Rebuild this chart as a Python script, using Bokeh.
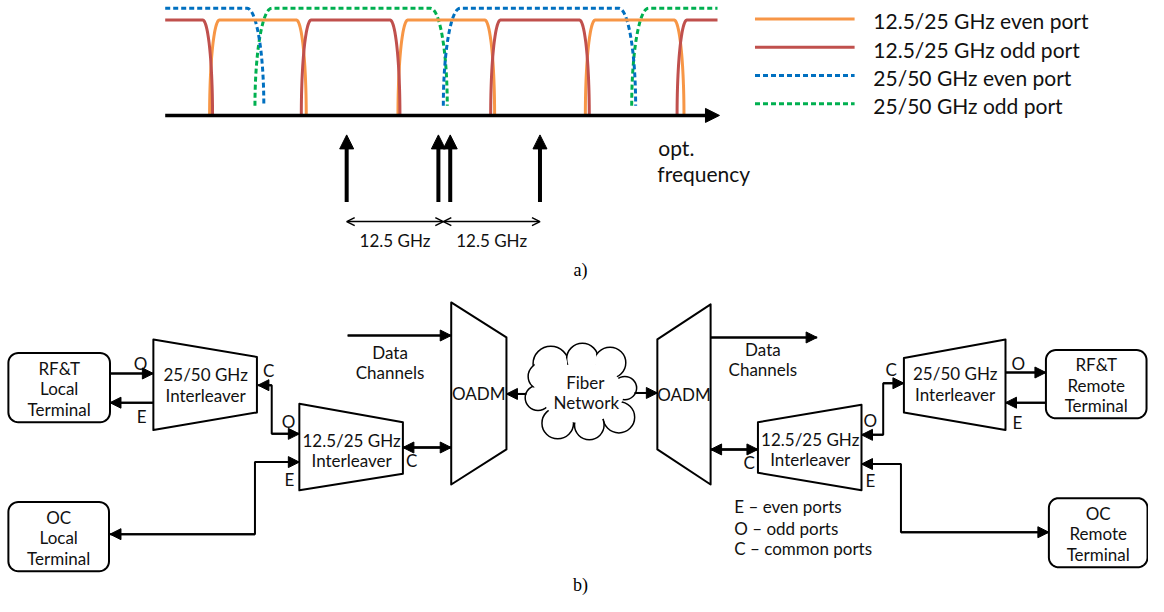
import numpy as np
from bokeh.plotting import figure
from bokeh.models import Range1d, Arrow, NormalHead, OpenHead, ColumnDataSource
from bokeh.core.properties import value
from bokeh.embed import file_html
from bokeh.resources import INLINE

FONT = value("Lato")
SERIF = value("Liberation Serif")

# ---------------- panel a) data (reference pixel coordinates) ----------------
axis_start, axis_end, axis_y = 167, 729, 118
solid_top, dashed_top, dashed_bottom = 20, 8, 108
solid_edge, dashed_edge = 10, 17
even12_bands = [(212, 310), (403, 501), (593, 693)]
odd12_bands = [(None, 215), (305, 405), (497, 597), (686, None)]
even25_bands = [(None, 267), (449, 644)]
odd25_bands = [(258, 453), (640, None)]
carrier_x = [351, 444, 456, 547]
carrier_bottom, carrier_top = 207, 138
spacing_pairs = [(351, 449), (449, 547)]
spacing_labels = ["12.5 GHz", "12.5 GHz"]
legend_labels = ["12.5/25 GHz even port", "12.5/25 GHz odd port",
                 "25/50 GHz even port", "25/50 GHz odd port"]
legend_colors = ["#F79646", "#C0504D", "#0070C0", "#00B050"]
legend_dash = ["solid", "solid", "5 3", "5 3"]
legend_y = [19, 48, 77, 106]

# ---------------- panel b) data ----------------
box_labels = [["RF&T", "Local", "Terminal"], ["OC", "Local", "Terminal"],
              ["RF&T", "Remote", "Terminal"], ["OC", "Remote", "Terminal"]]
box_x0 = [8, 8, 1060, 1063]
box_x1 = [111, 110, 1162, 1163]
box_y0 = [362, 515, 359, 511]
box_y1 = [433, 586, 429, 582]

trap_labels = [["25/50 GHz", "Interleaver"], ["12.5/25 GHz", "Interleaver"], ["OADM"],
               ["OADM"], ["12.5/25 GHz", "Interleaver"], ["25/50 GHz", "Interleaver"]]
trap_xs = [[155, 260, 260, 155], [303, 408, 408, 303], [457, 513, 513, 457],
           [666, 720, 720, 666], [768, 873, 873, 768], [916, 1019, 1019, 916]]
trap_ys = [[348, 366, 423, 441], [414, 433, 486, 503], [310, 346, 461, 497],
           [348, 312, 497, 461], [433, 415, 503, 485], [367, 348, 441, 423]]
trap_text_x = [208, 356, 485, 693, 821, 968]
trap_text_y = [395, 462, 404, 405, 461, 394]

# connectors: points, heads ("end" or "both")
conn_pts = [
    [(111, 383), (155, 383)],
    [(155, 413), (111, 413)],
    [(261, 395), (275, 395), (275, 445), (303, 445)],
    [(111, 548), (258, 548), (258, 474), (303, 474)],
    [(408, 459), (457, 459)],
    [(352, 344), (457, 344)],
    [(533, 404), (513, 404)],
    [(643, 403), (666, 403)],
    [(720, 346), (828, 346)],
    [(720, 461), (768, 461)],
    [(873, 446), (895, 446), (895, 393), (916, 393)],
    [(873, 476), (913, 476), (913, 546), (1063, 546)],
    [(1019, 382), (1060, 382)],
    [(1060, 413), (1019, 413)],
]
conn_heads = ["end", "end", "both", "both", "both", "end", "end", "end", "end",
              "both", "both", "both", "end", "end"]

port_text = ["O", "E", "C", "O", "E", "C", "C", "O", "E", "C", "O", "E"]
port_x = [142, 143, 272, 292, 293, 417, 759, 882, 882, 903, 1032, 1031]
port_y = [373, 427, 380, 432, 492, 472, 474, 431, 493, 379, 373, 433]

misc_text = ["Data", "Channels", "Data", "Channels", "Fiber", "Network"]
misc_x = [395, 395, 773, 773, 593, 594]
misc_y = [361, 382, 358, 379, 392, 413]

key_text = ["E \u2013 even ports", "O \u2013 odd ports", "C \u2013 common ports"]
key_x = [744, 744, 744]
key_y = [520, 542, 563]

cloud_cx = [558, 590, 618, 633, 627, 597, 565, 545, 549]
cloud_cy = [373, 368, 372, 398, 428, 436, 434, 408, 386]
cloud_r = [18, 16, 16, 12, 16, 15, 16, 13, 14]

# ---------------- figure ----------------
p = figure(width=1148, height=596, x_range=Range1d(0, 1164), y_range=Range1d(612, 0),
           output_backend="svg", toolbar_location=None, x_axis_type=None, y_axis_type=None,
           min_border=0)
p.grid.visible = False
p.outline_line_color = None
p.background_fill_color = "white"
p.border_fill_color = "white"


def band(start, end, edge, low, high, x_min, x_max):
    th = np.linspace(0, np.pi / 2, 30)
    xs, ys = [], []
    if start is None:
        xs.append(x_min); ys.append(high)
    else:
        xs += list(start + edge * (1 - np.cos(th)))
        ys += list(low + (high - low) * np.sin(th))
    if end is None:
        xs.append(x_max); ys.append(high)
    else:
        x0 = end - edge
        xs += list(x0 + edge * np.sin(th))
        ys += list(high + (low - high) * (1 - np.cos(th)))
    return xs, ys


x_max = axis_end - 2
for bands, color, edge, low, high, dash in [
        (odd25_bands, legend_colors[3], dashed_edge, dashed_bottom, dashed_top, "5 3"),
        (even25_bands, legend_colors[2], dashed_edge, dashed_bottom, dashed_top, "5 3"),
        (even12_bands, legend_colors[0], solid_edge, axis_y, solid_top, "solid"),
        (odd12_bands, legend_colors[1], solid_edge, axis_y, solid_top, "solid")]:
    for s, e in bands:
        xs, ys = band(s, e, edge, low, high, axis_start, x_max)
        p.line(xs, ys, line_color=color, line_width=3, line_dash=dash)

# frequency axis
p.add_layout(Arrow(end=NormalHead(size=14, fill_color="black", line_color="black"),
                   x_start=axis_start, y_start=axis_y, x_end=axis_end, y_end=axis_y,
                   line_width=3.5, line_color="black"))

# carriers
for cx in carrier_x:
    p.add_layout(Arrow(end=NormalHead(size=14, fill_color="black", line_color="black"),
                       x_start=cx, y_start=carrier_bottom, x_end=cx, y_end=carrier_top,
                       line_width=4, line_color="black"))
for (a, b) in spacing_pairs:
    p.add_layout(Arrow(start=OpenHead(size=8, line_width=1.5), end=OpenHead(size=8, line_width=1.5),
                       x_start=a, y_start=227, x_end=b, y_end=227, line_width=1.5))
p.text(x=[(a + b) / 2 for a, b in spacing_pairs], y=[246, 246], text=spacing_labels,
       text_font=FONT, text_font_size="17px", text_align="center", text_baseline="middle",
       text_color="#111111")

# legend a)
for lab, col, dsh, ly in zip(legend_labels, legend_colors, legend_dash, legend_y):
    p.line([765, 866], [ly, ly], line_color=col, line_width=3, line_dash=dsh)
p.text(x=[885] * 4, y=[v + 2 for v in legend_y], text=legend_labels, text_font=FONT,
       text_font_size="21px", text_align="left", text_baseline="middle", text_color="#111111")
p.text(x=[667, 666], y=[151, 178], text=["opt.", "frequency"], text_font=FONT,
       text_font_size="21px", text_align="left", text_baseline="middle", text_color="#111111")

p.text(x=[588, 588], y=[277, 600], text=["a)", "b)"], text_font=SERIF,
       text_font_size="18px", text_align="center", text_baseline="middle", text_color="black")


# ---------------- panel b ----------------
def rounded_rect(x0, x1, y0, y1, r=10):
    pts_x, pts_y = [], []
    corners = [(x1 - r, y0 + r, -np.pi / 2, 0), (x1 - r, y1 - r, 0, np.pi / 2),
               (x0 + r, y1 - r, np.pi / 2, np.pi), (x0 + r, y0 + r, np.pi, 1.5 * np.pi)]
    for cx, cy, a0, a1 in corners:
        t = np.linspace(a0, a1, 10)
        pts_x += list(cx + r * np.cos(t))
        pts_y += list(cy + r * np.sin(t))
    return pts_x, pts_y


for labs, x0, x1, y0, y1 in zip(box_labels, box_x0, box_x1, box_y0, box_y1):
    xs, ys = rounded_rect(x0, x1, y0, y1)
    p.patch(xs, ys, fill_color="white", line_color="black", line_width=2)
    cx, cy = (x0 + x1) / 2, (y0 + y1) / 2
    p.text(x=[cx] * 3, y=[cy - 20, cy + 1, cy + 22], text=labs, text_font=FONT,
           text_font_size="17px", text_align="center", text_baseline="middle", text_color="#111111")

p.patches(trap_xs, trap_ys, fill_color="white", line_color="black", line_width=2, line_join="round")
for labs, tx, ty in zip(trap_labels, trap_text_x, trap_text_y):
    if len(labs) == 2:
        ys = [ty - 10.5, ty + 10.5]
    else:
        ys = [ty]
    p.text(x=[tx] * len(labs), y=ys, text=labs, text_font=FONT, text_font_size="17px",
           text_align="center", text_baseline="middle", text_color="#111111")

# cloud
p.ellipse(cloud_cx, cloud_cy, width=[2 * r for r in cloud_r], height=[2 * r for r in cloud_r],
          fill_color="white", line_color="black", line_width=1.5)
p.ellipse(cloud_cx, cloud_cy, width=[2 * r - 3 for r in cloud_r], height=[2 * r - 3 for r in cloud_r],
          fill_color="white", line_color=None)
p.ellipse([590], [403], width=[84], height=[62], fill_color="white", line_color=None)

# connectors
for pts, hd in zip(conn_pts, conn_heads):
    xs = [q[0] for q in pts]
    ys = [q[1] for q in pts]
    p.line(xs, ys, line_color="black", line_width=2)
    p.add_layout(Arrow(end=NormalHead(size=11, fill_color="black", line_color="black", line_width=1),
                       x_start=xs[-2], y_start=ys[-2], x_end=xs[-1], y_end=ys[-1],
                       line_width=2, line_color="black"))
    if hd == "both":
        p.add_layout(Arrow(end=NormalHead(size=11, fill_color="black", line_color="black", line_width=1),
                           x_start=xs[1], y_start=ys[1], x_end=xs[0], y_end=ys[0],
                           line_width=2, line_color="black"))

p.text(x=port_x, y=port_y, text=port_text, text_font=FONT, text_font_size="17px",
       text_align="center", text_baseline="middle", text_color="#111111")
p.text(x=misc_x, y=misc_y, text=misc_text, text_font=FONT, text_font_size="17px",
       text_align="center", text_baseline="middle", text_color="#111111")
p.text(x=key_x, y=key_y, text=key_text, text_font=FONT, text_font_size="17px",
       text_align="left", text_baseline="middle", text_color="#111111")

open("out.html", "w").write(file_html(p, INLINE))
